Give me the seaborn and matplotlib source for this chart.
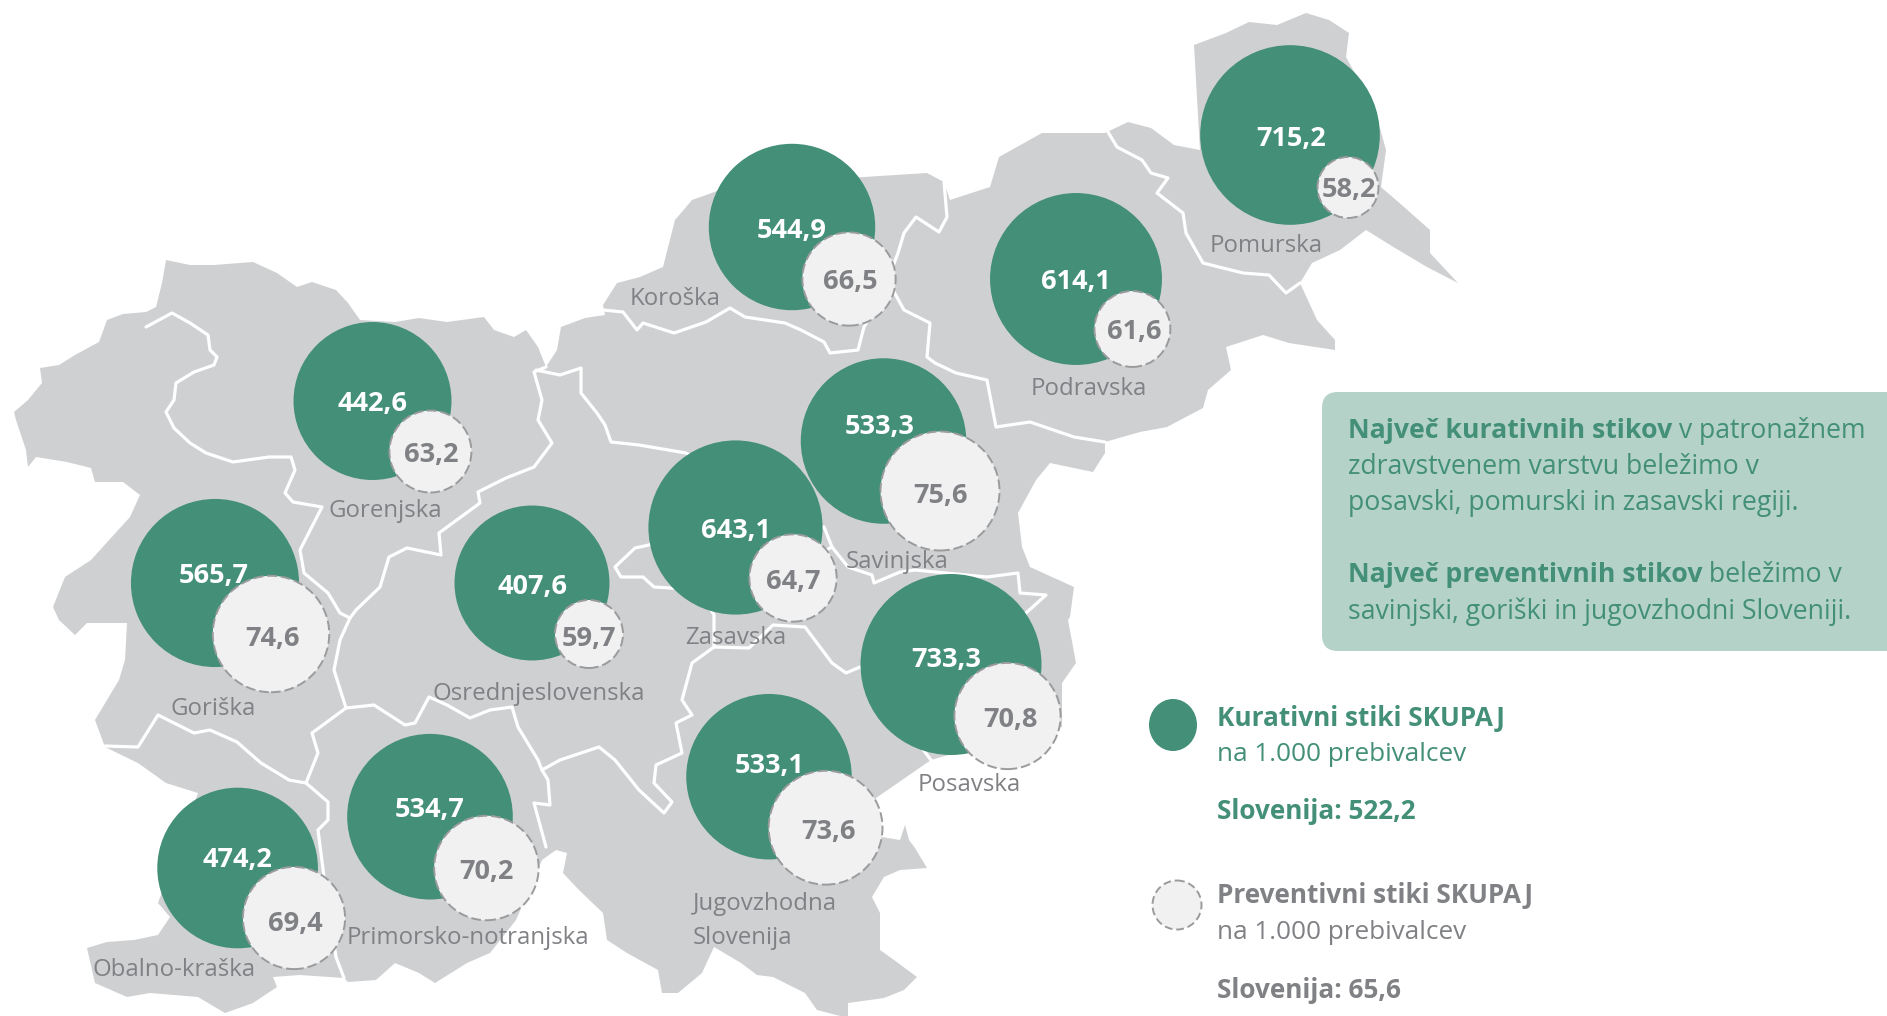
import matplotlib
matplotlib.use("Agg")
import matplotlib.pyplot as plt
from matplotlib.patches import Ellipse, FancyBboxPatch, Polygon
import pandas as pd
import seaborn as sns

# podatki
regije = ["Pomurska", "Podravska", "Koroška", "Savinjska", "Zasavska", "Posavska",
          "Jugovzhodna Slovenija", "Osrednjeslovenska", "Gorenjska", "Primorsko-notranjska",
          "Goriška", "Obalno-kraška"]
kurativni = [715.2, 614.1, 544.9, 533.3, 643.1, 733.3, 533.1, 407.6, 442.6, 534.7, 565.7, 474.2]
preventivni = [58.2, 61.6, 66.5, 75.6, 64.7, 70.8, 73.6, 59.7, 63.2, 70.2, 74.6, 69.4]

# sredisca krogov na karti (px)
kur_x = [1290, 1076, 792, 883.5, 735.5, 951, 769, 532, 372.5, 430, 215, 237.6]
kur_y = [135, 279, 227, 441, 527.5, 664.5, 776.7, 583, 401, 816.7, 583, 868]
prev_x = [1348, 1132.4, 849, 940, 793, 1007.5, 825.6, 589, 430.4, 486.4, 271, 294]
prev_y = [187.5, 329, 279, 491, 578, 716, 827.7, 634, 451.5, 868, 634, 918]

# polozaj stevilk
kur_lab_x = [1291, 1076, 792, 880, 735.5, 946, 770, 532, 372.5, 430, 214, 237.6]
kur_lab_y = [139, 282, 231, 427, 531, 660, 766, 587, 404, 810, 576, 860]
prev_lab_x = [1349, 1134, 850, 940, 793, 1010, 828, 589, 431, 486, 272, 295]
prev_lab_y = [190, 332, 282, 496, 582, 720, 832, 639, 455, 872, 639, 924]

# imena regij na karti: (besedilo, levi rob, osnovna crta)
imena = [("Pomurska", 1210, 252), ("Podravska", 1031, 395), ("Koroška", 630, 305),
         ("Savinjska", 846, 568), ("Zasavska", 685, 644), ("Posavska", 918, 791),
         ("Jugovzhodna", 693, 910), ("Slovenija", 693, 944), ("Osrednjeslovenska", 432, 700),
         ("Gorenjska", 329, 517), ("Primorsko-notranjska", 347, 944), ("Goriška", 171, 715),
         ("Obalno-kraška", 92, 976)]

# obris Slovenije
obris = [(14,412),(28,400),(42,383),(40,368),(59,365),(75,355),(99,342),(107,320),(123,314),(146,312),
         (156,307),(162,283),(166,260),(190,265),(214,265),(253,262),(277,273),(297,287),(312,282),(336,290),
         (348,303),(360,320),(395,322),(419,318),(447,322),(484,317),(494,330),(514,337),(526,330),(538,347),
         (546,367),(557,350),(561,327),(585,318),(605,315),(603,305),(617,283),(640,277),(663,267),(675,220),
         (692,200),(720,190),(864,177),(927,173),(944,182),(950,200),(990,187),(999,157),(1042,133),(1105,133),
         (1128,122),(1151,128),(1174,145),(1200,150),(1194,45),(1226,33),(1249,22),(1277,25),(1306,13),(1329,20),
         (1349,33),(1346,57),(1375,110),(1386,150),(1381,187),(1404,207),(1430,230),(1430,253),(1458,283),(1427,267),
         (1395,248),(1366,230),(1340,250),(1312,263),(1300,283),(1317,320),(1335,340),(1335,350),(1289,343),(1263,335),
         (1226,347),(1231,370),(1208,390),(1203,408),(1167,427),(1140,432),(1105,442),(1105,453),(1093,472),(1050,463),
         (1036,480),(1018,513),(1022,547),(1030,567),(1074,587),(1070,617),(1068,620),(1076,663),(1062,683),(1062,727),
         (1000,740),(931,760),(876,798),(882,837),(900,840),(905,825),(909,840),(915,848),(927,868),(900,870),
         (884,877),(872,897),(880,913),(880,950),(894,960),(917,977),(904,990),(884,998),(848,1003),(848,1018),
         (817,1010),(805,993),(773,977),(757,975),(741,963),(714,947),(702,973),(678,993),(662,993),(658,970),
         (627,953),(607,940),(603,913),(579,890),(563,873),(567,853),(556,850),(542,860),(516,920),(490,953),
         (467,963),(435,983),(419,973),(395,963),(376,980),(348,982),(344,978),(300,975),(273,977),(277,987),
         (253,1003),(225,1013),(198,997),(150,993),(127,997),(95,983),(87,948),(107,942),(134,940),(158,935),
         (170,917),(158,903),(198,793),(166,783),(138,763),(105,747),(95,720),(119,680),(125,660),(127,623),
         (87,623),(75,635),(59,620),(53,607),(65,577),(91,560),(130,517),(140,495),(123,482),(95,482),
         (91,468),(67,462),(36,457),(28,467),(26,450),(16,420)]

# meje med regijami
meje = [
    [(146,327),(172,313),(190,323),(208,335),(210,350),(217,357),(214,365),(194,372),(176,383),(174,400),(166,412),
     (174,428),(190,443),(206,453),(233,462),(269,457),(291,457),(295,470),(285,493),(293,502),(322,507),(300,550),
     (304,573),(328,593),(340,613),(350,618),(340,640),(334,670),(346,708),(312,733),(318,753),(306,783),(328,802),
     (328,820),(318,830),(324,877),(336,957),(344,978)],
    [(105,746),(138,747),(158,715),(194,733),(210,730),(237,742),(261,763),(289,780),(306,783)],
    [(346,708),(374,705),(405,725),(415,723),(429,697),(447,705),(470,718),(490,710),(512,707),(518,727),(538,760),
     (542,770),(548,780),(550,805),(534,803),(546,847)],
    [(542,770),(560,760),(599,747),(615,760),(639,790),(664,813),(672,802),(654,783),(656,765),(682,753),(676,723),
     (692,715),(682,700),(692,663),(714,647),(749,648),(773,625),(805,627),(817,643),(832,663),(846,673),(860,667),
     (931,760)],
    [(350,618),(356,610),(380,587),(389,557),(407,548),(441,555),(439,533),(480,503),(478,492),(506,478),(534,467),
     (552,443),(538,420),(542,400),(534,372),(546,367)],
    [(536,370),(560,375),(581,368),(581,393),(597,413),(605,425),(611,442),(639,445),(686,453),(735,480),(770,525)],
    [(714,647),(714,615),(700,590),(670,588),(654,587),(643,577),(621,577),(615,567),(635,548),(649,545),(690,520)],
    [(770,525),(824,527),(832,547),(848,567),(872,575),(874,583),(900,572),(915,570),(987,577),(1018,573),(1020,593),
     (1046,595),(1026,613),(1000,640)],
    [(790,570),(832,547)],
    [(567,320),(603,310),(623,312),(637,330),(643,323),(674,333),(706,322),(730,308),(745,317),(785,323),(801,330),
     (824,342),(830,353),(858,350),(864,327),(880,300),(898,253),(904,233),(916,217),(939,232),(947,217),(944,182)],
    [(893,290),(904,310),(930,323),(927,357),(935,363),(956,373),(987,380),(996,427),(1030,422),(1074,437),(1105,442)],
    [(1108,132),(1117,147),(1142,160),(1151,173),(1168,178),(1157,193),(1183,213),(1186,233),(1203,263),(1243,273),
     (1269,275),(1286,293),(1300,283)],
]

zelena = "#438F78"
siva = "#808184"
svetla = "#F1F1F2"
karta = "#CFD0D2"
okvir = "#B4D2C8"

sns.set_theme(style="white")
plt.rcParams["font.family"] = ["Open Sans", "DejaVu Sans"]

df = pd.DataFrame({"regija": regije, "kurativni": kurativni, "preventivni": preventivni,
                   "kx": kur_x, "ky": kur_y, "px": prev_x, "py": prev_y})

fig = plt.figure(figsize=(18.87, 10.16), dpi=100)
ax = fig.add_axes([0, 0, 1, 1])

ax.add_patch(Polygon(obris, closed=True, facecolor=karta, edgecolor="none", zorder=1))
for m in meje:
    ax.plot(*zip(*m), color="white", lw=2.3, solid_joinstyle="round", zorder=2)

# povrsina kroga je linearna glede na vrednost
sns.scatterplot(data=df, x="kx", y="ky", size="kurativni", sizes=(12450, 16980), size_norm=(407.6, 733.3),
                color=zelena, linewidth=0, legend=False, zorder=3, ax=ax)
sns.scatterplot(data=df, x="px", y="py", size="preventivni", sizes=(1930, 7340), size_norm=(58.2, 75.6),
                color=svetla, edgecolor="#9A9B9D", linewidth=1.4, linestyle=(0, (5, 2)), legend=False, zorder=4, ax=ax)

ax.set_xlim(0, 1887)
ax.set_ylim(1016, 0)
ax.axis("off")

for x, y, v in zip(kur_lab_x, kur_lab_y, kurativni):
    ax.text(x, y, f"{v:.1f}".replace(".", ","), color="white", fontsize=19.5, fontweight="bold",
            ha="center", va="center", zorder=5)
for x, y, v in zip(prev_lab_x, prev_lab_y, preventivni):
    ax.text(x, y, f"{v:.1f}".replace(".", ","), color=siva, fontsize=19.5, fontweight="bold",
            ha="center", va="center", zorder=5)
for ime, x, y in imena:
    ax.text(x, y, ime, color=siva, fontsize=17.3, ha="left", va="baseline", zorder=5)

# okvir z besedilom
ax.add_patch(FancyBboxPatch((1322, 392), 620, 259, boxstyle="round,pad=0,rounding_size=16",
                            facecolor=okvir, edgecolor="none", zorder=1))
rend = fig.canvas.get_renderer()
vrstice = [("Največ kurativnih stikov", " v patronažnem", 438), ("", "zdravstvenem varstvu beležimo v", 474),
           ("", "posavski, pomurski in zasavski regiji.", 510), ("Največ preventivnih stikov", " beležimo v", 582),
           ("", "savinjski, goriški in jugovzhodni Sloveniji.", 619)]
for krepko, navadno, y in vrstice:
    x = 1348
    if krepko:
        t = ax.text(x, y, krepko, color=zelena, fontsize=19.2, fontweight="bold", va="baseline")
        x = t.get_window_extent(rend).x1
    ax.text(x, y, navadno, color=zelena, fontsize=19.2, va="baseline")

# legenda
ax.add_patch(Ellipse((1173, 725), 48, 52, facecolor=zelena, edgecolor="none"))
ax.add_patch(Ellipse((1177, 905), 49, 49, facecolor=svetla, edgecolor="#9A9B9D", lw=1.4, linestyle=(0, (4, 2))))
ax.text(1217, 726, "Kurativni stiki SKUPAJ", color=zelena, fontsize=18.85, fontweight="bold", va="baseline")
ax.text(1217, 761, "na 1.000 prebivalcev", color=zelena, fontsize=18.85, va="baseline")
ax.text(1217, 819, "Slovenija: 522,2", color=zelena, fontsize=18.85, fontweight="bold", va="baseline")
ax.text(1217, 903, "Preventivni stiki SKUPAJ", color=siva, fontsize=18.85, fontweight="bold", va="baseline")
ax.text(1217, 939, "na 1.000 prebivalcev", color=siva, fontsize=18.85, va="baseline")
ax.text(1217, 998, "Slovenija: 65,6", color=siva, fontsize=18.85, fontweight="bold", va="baseline")

fig.savefig("out.png", dpi=100)
